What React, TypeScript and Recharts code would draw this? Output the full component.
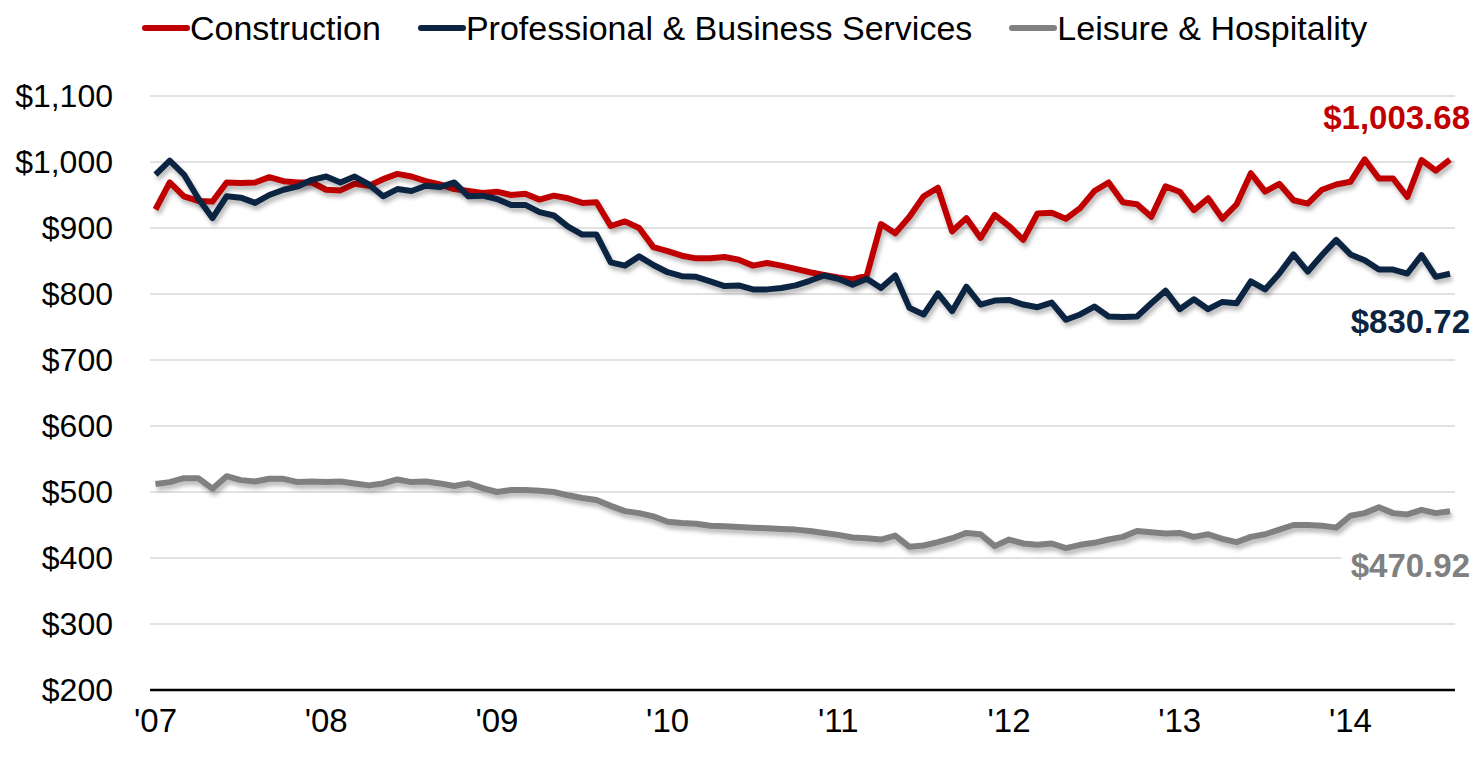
import React from "react";
import {
  LineChart,
  Line,
  XAxis,
  YAxis,
  CartesianGrid,
  Legend,
} from "recharts";

// monthly average weekly earnings, Jan 2007 - Aug 2014
const YEAR_LABELS = ["'07", "'08", "'09", "'10", "'11", "'12", "'13", "'14"];

const CONSTRUCTION = [
  928, 969, 948, 941, 940, 969, 968, 969, 977, 971, 969, 969,
  958, 957, 967, 964, 974, 982, 978, 971, 966, 959, 956, 953,
  955, 950, 952, 943, 949, 945, 938, 939, 903, 910, 900, 871,
  865, 858, 854, 854, 856, 852, 843, 847, 843, 838, 833, 829,
  825, 822, 828, 906, 892, 917, 948, 961, 895, 915, 885, 920,
  903, 882, 922, 923, 914, 930, 956, 969, 939, 936, 917, 963,
  955, 927, 945, 914, 936, 983, 955, 967, 942, 937, 958, 966,
  970, 1004, 975, 975, 947, 1003, 987, 1003.68,
];

const PROF_BUSINESS = [
  981, 1002, 981, 945, 915, 948, 946, 938, 950, 958, 963, 973,
  978, 969, 978, 966, 948, 959, 956, 964, 962, 969, 948, 949,
  944, 935, 935, 924, 919, 902, 890, 890, 848, 843, 857, 844,
  833, 827, 826, 819, 812, 813, 807, 807, 809, 813, 820, 828,
  823, 814, 823, 809, 828, 779, 769, 801, 774, 811, 784, 790,
  791, 784, 780, 787, 761, 769, 781, 766, 765, 766, 786, 805,
  777, 792, 777, 788, 786, 819, 807, 831, 860, 834, 859, 882,
  860, 851, 837, 837, 831, 859, 826, 830.72,
];

const LEISURE = [
  512, 515, 521, 521, 505, 524, 518, 516, 520, 520, 515, 516,
  515, 516, 513, 510, 513, 519, 515, 516, 513, 509, 513, 506,
  500, 503, 503, 502, 500, 495, 491, 488, 479, 471, 468, 463,
  455, 453, 452, 449, 448, 447, 446, 445, 444, 443, 441, 438,
  435, 431, 430, 428, 434, 417, 419, 424, 430, 438, 436, 418,
  428, 422, 420, 422, 415, 420, 423, 428, 432, 441, 439, 437,
  438, 432, 436, 429, 424, 432, 436, 443, 450, 450, 449, 446,
  464, 468, 477, 468, 466, 473, 468, 470.92,
];

const Y_TICKS = [200, 300, 400, 500, 600, 700, 800, 900, 1000, 1100];

const SERIES = [
  { key: "construction", name: "Construction", color: "#C00000", labelDy: -42 },
  { key: "prof", name: "Professional & Business Services", color: "#0B2442", labelDy: 47 },
  { key: "leisure", name: "Leisure & Hospitality", color: "#808080", labelDy: 54 },
];

const FONT = "'Liberation Sans', Arial, sans-serif";

const data = CONSTRUCTION.map((v, i) => ({
  idx: i,
  construction: v,
  prof: PROF_BUSINESS[i],
  leisure: LEISURE[i],
}));

const lastIdx = data.length - 1;

const money = (v: number) =>
  "$" +
  v.toLocaleString("en-US", {
    minimumFractionDigits: Number.isInteger(v) ? 0 : 2,
    maximumFractionDigits: 2,
  });

function endLabel(color: string, dy: number) {
  return (props: any) => {
    const { x, y, index, value } = props;
    if (index !== lastIdx) return null;
    const text = money(value);
    const w = text.length * 17 + 10;
    return (
      <g key="end">
        <rect x={x + 20 - w} y={y + dy - 20} width={w} height={40} fill="#fff" />
        <text
          x={x + 20}
          y={y + dy}
          dy="0.36em"
          textAnchor="end"
          fill={color}
          fontFamily={FONT}
          fontWeight="bold"
          fontSize={33}
        >
          {text}
        </text>
      </g>
    );
  };
}

function LegendRow() {
  return (
    <div style={{ display: "flex", alignItems: "center", fontFamily: FONT, fontSize: 34, lineHeight: "40px", color: "#000" }}>
      {SERIES.map((s) => (
        <div key={s.key} style={{ display: "flex", alignItems: "center", marginRight: 37 }}>
          <span style={{ display: "inline-block", width: 48, height: 6, background: s.color, borderRadius: 3 }} />
          <span>{s.name}</span>
        </div>
      ))}
    </div>
  );
}

export default function App() {
  return (
    <div style={{ position: "absolute", left: 0, top: 0, width: 1481, height: 757, background: "#fff" }}>
      <style>{`.recharts-line-curve { filter: drop-shadow(2px 4px 2px rgba(0,0,0,0.28)); }`}</style>
      <LineChart
        width={1481}
        height={757}
        data={data}
        margin={{ top: 96, right: 26, bottom: 0, left: 0 }}
      >
        <CartesianGrid vertical={false} stroke="#D9D9D9" strokeWidth={1.5} />
        <XAxis
          type="number"
          dataKey="idx"
          domain={[0, lastIdx]}
          ticks={YEAR_LABELS.map((_, i) => i * 12)}
          tickFormatter={(i: number) => YEAR_LABELS[i / 12]}
          padding={{ left: 5.5, right: 5 }}
          height={67}
          axisLine={{ stroke: "#000", strokeWidth: 2.5 }}
          tickLine={false}
          tickSize={0}
          tickMargin={19}
          tick={{ fill: "#000", fontSize: 33, fontFamily: FONT }}
        />
        <YAxis
          domain={[200, 1100]}
          ticks={Y_TICKS}
          tickFormatter={money}
          width={150}
          axisLine={false}
          tickLine={false}
          tickSize={0}
          tickMargin={37}
          tick={{ fill: "#000", fontSize: 32, fontFamily: FONT }}
        />
        <Legend
          verticalAlign="middle"
          align="center"
          content={() => <LegendRow />}
          wrapperStyle={{ top: 8, left: 142, width: "auto" }}
        />
        {SERIES.map((s) => (
          <Line
            key={s.key}
            dataKey={s.key}
            name={s.name}
            stroke={s.color}
            strokeWidth={6}
            strokeLinejoin="round"
            dot={false}
            activeDot={false}
            label={endLabel(s.color, s.labelDy)}
            isAnimationActive={false}
          />
        ))}
      </LineChart>
    </div>
  );
}
